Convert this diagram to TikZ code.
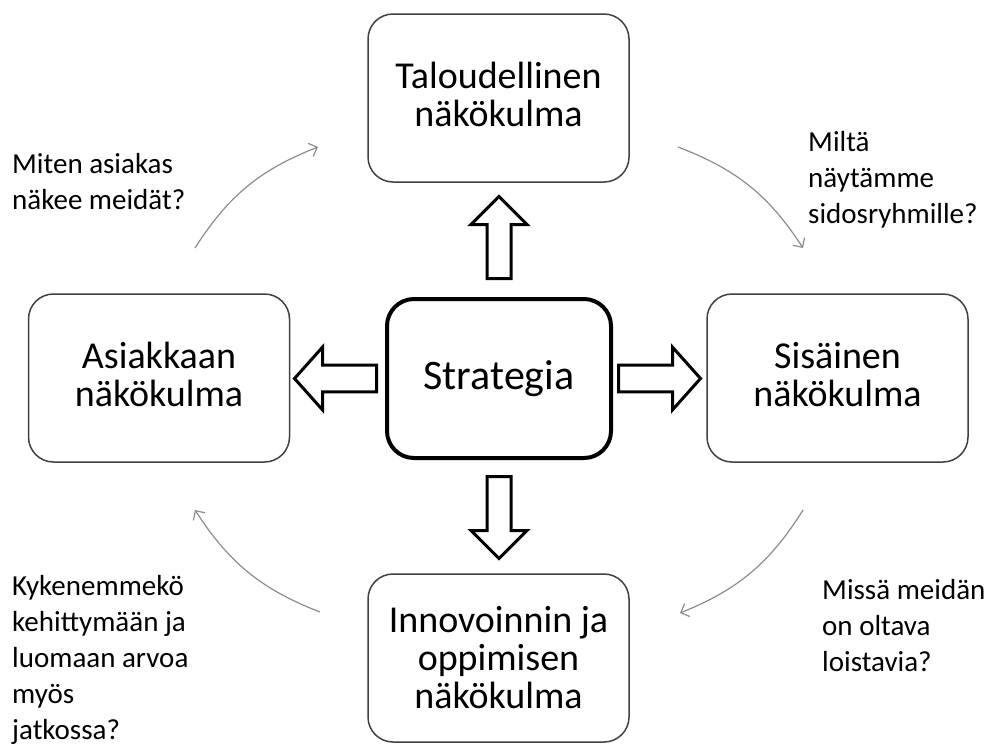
\documentclass[tikz,border=0pt]{standalone}
\usepackage{fontspec}
\setmainfont{Carlito}
\usetikzlibrary{arrows.meta,calc}
\definecolor{boxgray}{HTML}{404040}
\definecolor{arcgray}{HTML}{8C8C8C}
\newcommand{\lowstrut}{\rule[-8pt]{0pt}{8pt}}

\begin{document}
\begin{tikzpicture}[x=1pt,y=-1pt]
\tikzset{nbox/.style = {draw=boxgray, line width=1.5pt, rounded corners=25pt, minimum width=261pt, minimum height=168pt, align=center, font=\fontsize{38pt}{38pt}\selectfont}}
\tikzset{stratbox/.style = {draw=black, line width=4pt, rounded corners=27pt, minimum width=224pt, minimum height=159pt, font=\fontsize{42pt}{44pt}\selectfont}}
\tikzset{qtext/.style = {anchor=west, align=left, inner sep=0pt, font=\fontsize{29pt}{36pt}\selectfont}}
\tikzset{arc/.style = {draw=arcgray, line width=1.2pt, -{Straight Barb[length=7pt,width=14pt]}}}
\tikzset{blockarr/.pic = {\draw[line width=3pt, fill=white, miter limit=10] (0,-12)--(54,-12)--(54,-28)--(82,0)--(54,28)--(54,12)--(0,12)--cycle;}}
\useasboundingbox (0,0) rectangle (992,745);

    \node[stratbox] (strat) at (499,378.5) {Strategia};
    \node[nbox] (talous) at (498.5,98) {Taloudellinen\\näkökulma\lowstrut};
    \node[nbox] (asiakas) at (159,378) {Asiakkaan\\näkökulma\lowstrut};
    \node[nbox] (sisainen) at (837.5,378) {Sisäinen\\näkökulma\lowstrut};
    \node[nbox] (innov) at (498.5,658) {Innovoinnin ja\\oppimisen\\näkökulma};

    \pic[rotate=90] at ($(strat.north)+(0,-18.5)$) {blockarr};
    \pic[rotate=-90] at ($(strat.south)+(0,16.5)$) {blockarr};
    \pic[yscale=1.12] at ($(strat.east)+(5.5,0)$) {blockarr};
    \pic[xscale=-1,yscale=1.12] at ($(strat.west)+(-8.5,0)$) {blockarr};

    \node[qtext] (qasiakas) at (12,182) {Miten asiakas\\näkee meidät?};
    \node[qtext] (qsidos) at (808,180) {Miltä\\näytämme\\sidosryhmille?};
    \node[qtext] (qloist) at (822,626) {Missä meidän\\on oltava\\loistavia?};
    \node[qtext] (qkehit) at (12,660) {Kykenemmekö\\kehittymään ja\\luomaan arvoa\\myös\\jatkossa?};

\coordinate (c1a) at (195,248);
\coordinate (c1b) at (318,147);
\coordinate (c2a) at (678,147);
\coordinate (c2b) at (803,248);
\coordinate (c3a) at (803,510);
\coordinate (c3b) at (680,613);
\coordinate (c4a) at (320,612);
\coordinate (c4b) at (195,510);
    \draw[arc] (c1a) to[bend left=18] (c1b);
    \draw[arc] (c2a) to[bend left=18] (c2b);
    \draw[arc] (c3a) to[bend left=18] (c3b);
    \draw[arc] (c4a) to[bend left=18] (c4b);
\end{tikzpicture}
\end{document}
